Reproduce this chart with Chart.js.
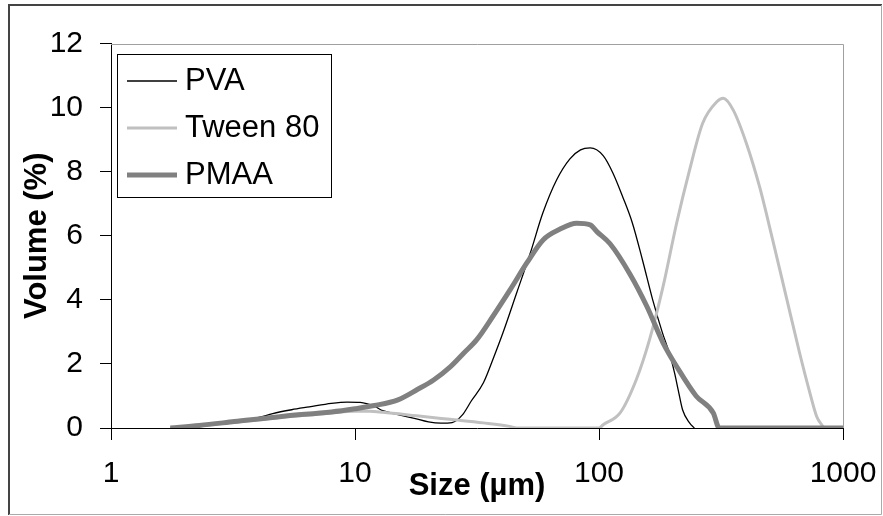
<!DOCTYPE html>
<html><head><meta charset="utf-8">
<script src="https://cdn.jsdelivr.net/npm/chart.js@4.4.1/dist/chart.umd.min.js"></script>
<style>html,body{margin:0;padding:0;background:#fff;}canvas{display:block;}</style>
</head><body>
<canvas id="c" width="883" height="516"></canvas>
<script>
const seriesNames = ['PVA', 'Tween 80', 'PMAA'];

const pvaSize = [1.75, 2.3, 3.2, 4.0, 4.6, 5.5, 6.5, 8, 9.3, 10.5, 12, 13, 15, 17.5, 20, 22.5, 25, 27.5, 30, 33.6, 37, 40.4, 46, 52.3, 58.8, 67, 76, 84, 92, 104, 114, 125, 137, 151, 166, 182, 195, 204, 211, 220, 235, 246];
const pvaVolume = [0, 0.08, 0.2, 0.32, 0.45, 0.57, 0.66, 0.77, 0.81, 0.8, 0.68, 0.54, 0.42, 0.3, 0.19, 0.15, 0.17, 0.4, 0.85, 1.41, 2.2, 2.97, 4.22, 5.46, 6.7, 7.74, 8.4, 8.68, 8.74, 8.5, 7.96, 7.22, 6.4, 5.22, 4.0, 2.97, 2.3, 1.72, 1.2, 0.57, 0.16, 0];

const tweenSize = [1.75, 2.3, 3.2, 5.1, 8, 10, 11.5, 13, 17.9, 24.5, 33.5, 43, 46, 100, 104, 122, 142, 161, 183, 208, 235, 266, 304, 323, 355, 402, 455, 515, 585, 664, 732, 780, 818, 840];
const tweenVolume = [0, 0.07, 0.18, 0.34, 0.47, 0.52, 0.52, 0.49, 0.38, 0.27, 0.16, 0.05, 0, 0, 0.1, 0.47, 1.5, 2.75, 4.41, 6.39, 8.05, 9.51, 10.18, 10.29, 9.92, 8.88, 7.53, 5.87, 4.1, 2.34, 1.09, 0.36, 0.1, 0];

const pmaaSize = [1.75, 2.3, 3.2, 5.1, 8, 10, 12, 15, 18, 21, 24.5, 28, 31.5, 36.7, 43.2, 50.6, 59, 69, 81, 92, 98, 111, 134, 157, 183, 212, 250, 294, 311, 1000];
const pmaaVolume = [0, 0.08, 0.2, 0.37, 0.5, 0.6, 0.7, 0.88, 1.2, 1.5, 1.9, 2.35, 2.75, 3.48, 4.31, 5.15, 5.87, 6.2, 6.39, 6.34, 6.13, 5.75, 4.8, 3.8, 2.66, 1.82, 1.0, 0.47, 0, 0];

const xTickValues = [1, 10, 100, 1000];
const yMin = 0, yMax = 12, yStep = 2;
const xTitle = 'Size (µm)';
const yTitle = 'Volume (%)';

const FONT = '"Liberation Sans", Arial, sans-serif';
const toPts = (xs, ys) => xs.map((x, i) => ({x: x, y: ys[i]}));

const framePlugin = {
  id: 'frame',
  beforeDraw(chart) {
    const ctx = chart.ctx;
    ctx.save();
    ctx.fillStyle = '#fff';
    ctx.fillRect(0, 0, chart.width, chart.height);
    ctx.restore();
  },
  afterDraw(chart) {
    const ctx = chart.ctx;
    const a = chart.chartArea;
    ctx.save();
    // plot area top and right border
    ctx.strokeStyle = '#a0a0a0';
    ctx.lineWidth = 1;
    ctx.beginPath();
    ctx.moveTo(a.left, Math.round(a.top) + 0.5);
    ctx.lineTo(Math.round(a.right) + 0.5, Math.round(a.top) + 0.5);
    ctx.lineTo(Math.round(a.right) + 0.5, a.bottom);
    ctx.stroke();
    // outer frame
    ctx.strokeStyle = '#444';
    ctx.lineWidth = 2;
    ctx.beginPath();
    ctx.moveTo(9, 515); ctx.lineTo(9, 5); ctx.lineTo(882, 5);
    ctx.stroke();
    ctx.strokeStyle = '#aaa';
    ctx.lineWidth = 1;
    ctx.beginPath();
    ctx.moveTo(881.5, 5); ctx.lineTo(881.5, 514.5); ctx.lineTo(9, 514.5);
    ctx.stroke();
    // legend
    const bx = 117.5, by = 54.5, bw = 214, bh = 143;
    ctx.fillStyle = '#fff';
    ctx.fillRect(bx, by, bw, bh);
    ctx.strokeStyle = '#000';
    ctx.lineWidth = 1;
    ctx.strokeRect(bx, by, bw, bh);
    const rows = [81, 128, 175];
    chart.data.datasets.forEach((ds, i) => {
      const y = rows[i];
      ctx.strokeStyle = ds.borderColor;
      ctx.lineWidth = ds.borderWidth;
      ctx.lineCap = 'butt';
      ctx.beginPath();
      ctx.moveTo(127, y); ctx.lineTo(177, y);
      ctx.stroke();
      ctx.fillStyle = '#000';
      ctx.font = '31px ' + FONT;
      ctx.textBaseline = 'middle';
      ctx.textAlign = 'left';
      ctx.fillText(ds.label, 185, y);
    });
    ctx.restore();
  }
};

new Chart(document.getElementById('c'), {
  type: 'line',
  data: {
    datasets: [
      {label: seriesNames[0], data: toPts(pvaSize, pvaVolume), borderColor: '#000000', borderWidth: 1.3, order: 2},
      {label: seriesNames[1], data: toPts(tweenSize, tweenVolume), borderColor: '#c0c0c0', borderWidth: 3, order: 1},
      {label: seriesNames[2], data: toPts(pmaaSize, pmaaVolume), borderColor: '#808080', borderWidth: 5, order: 0}
    ]
  },
  options: {
    responsive: false,
    animation: false,
    devicePixelRatio: 1,
    layout: {padding: {left: 0, right: 40, top: 43.5, bottom: 0}},
    plugins: {legend: {display: false}, tooltip: {enabled: false}},
    elements: {point: {radius: 0}, line: {cubicInterpolationMode: 'monotone', fill: false}},
    datasets: {line: {clip: 0}},
    scales: {
      x: {
        type: 'logarithmic', min: 1, max: 1000,
        afterBuildTicks: s => { s.ticks = xTickValues.map(v => ({value: v})); },
        afterFit: s => { s.height = 88; s.paddingLeft = 0; s.paddingRight = 0; },
        ticks: {callback: v => String(v), font: {family: FONT, size: 30}, color: '#000', padding: 16, maxRotation: 0, autoSkip: false},
        grid: {drawOnChartArea: false, drawTicks: true, tickLength: 12, color: '#000'},
        border: {display: true, color: '#000', width: 1},
        title: {display: true, text: xTitle, font: {family: FONT, size: 31, weight: 'bold'}, color: '#000', padding: {top: 0, bottom: 11.4}}
      },
      y: {
        min: yMin, max: yMax,
        afterFit: s => { s.width = 111; s.paddingTop = 0; s.paddingBottom = 0; },
        ticks: {stepSize: yStep, font: {family: FONT, size: 30}, color: '#000', padding: 17},
        grid: {drawOnChartArea: false, drawTicks: true, tickLength: 11, color: '#000'},
        border: {display: true, color: '#000', width: 1},
        title: {display: true, text: yTitle, font: {family: FONT, size: 31, weight: 'bold'}, color: '#000', padding: {top: 18.4, bottom: 0}}
      }
    }
  },
  plugins: [framePlugin]
});
</script>
</body></html>
